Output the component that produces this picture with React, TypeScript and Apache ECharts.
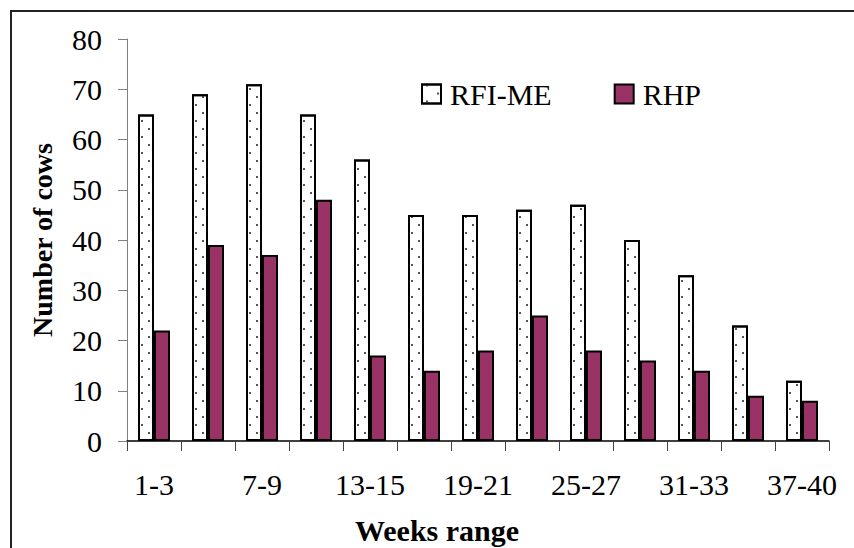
import React, { useEffect, useRef } from "react";
import * as echarts from "echarts";

const categories = ["1-3", "4-6", "7-9", "10-12", "13-15", "16-18", "19-21", "22-24", "25-27", "28-30", "31-33", "34-36", "37-40"];
const rfiMe = [65, 69, 71, 65, 56, 45, 45, 46, 47, 40, 33, 23, 12];
const rhp = [22, 39, 37, 48, 17, 14, 18, 25, 18, 16, 14, 9, 8];
const yTicks = { min: 0, max: 80, interval: 10 };

const FONT = "'Liberation Serif', 'Times New Roman', serif";

export default function App() {
  const ref = useRef<HTMLDivElement>(null);
  useEffect(() => {
    document.body.style.margin = "0";
    const chart = echarts.init(ref.current!, null, { renderer: "svg" });
    chart.setOption({
      animation: false,
      backgroundColor: "#ffffff",
      grid: { left: 127, top: 39, right: 25, bottom: 107, containLabel: false },
      legend: {
        left: 416,
        top: 74,
        icon: "rect",
        itemWidth: 19,
        itemHeight: 19,
        itemGap: 62,
        textStyle: { fontFamily: FONT, fontSize: 30, color: "#000", padding: [0, 0, 0, 4] },
        data: ["RFI-ME", "RHP"],
      },
      xAxis: {
        type: "category",
        data: categories,
        axisLine: { lineStyle: { color: "#000", width: 1.5 } },
        axisTick: { show: true, interval: 0, length: 10, lineStyle: { color: "#444" } },
        axisLabel: { interval: 1, fontFamily: FONT, fontSize: 30, color: "#000", margin: 28 },
      },
      yAxis: {
        type: "value",
        min: yTicks.min,
        max: yTicks.max,
        interval: yTicks.interval,
        splitLine: { show: false },
        axisLine: { show: true, lineStyle: { color: "#808080", width: 1 } },
        axisTick: { show: true, length: 9, lineStyle: { color: "#808080" } },
        axisLabel: { fontFamily: FONT, fontSize: 30, color: "#000", margin: 25 },
      },
      series: [
        {
          name: "RFI-ME",
          type: "bar",
          data: rfiMe,
          barWidth: 16,
          barGap: "0%",
          itemStyle: {
            color: "#ffffff",
            borderColor: "#000",
            borderWidth: 2,
            decal: {
              symbol: "rect",
              symbolSize: 1,
              color: "#555555",
              backgroundColor: "#ffffff",
              dashArrayX: [[0, 15, 2, 1], [0, 4, 2, 12]],
              dashArrayY: [2, 6],
              rotation: 0,
              symbolKeepAspect: false,
            },
          },
        },
        {
          name: "RHP",
          type: "bar",
          data: rhp,
          barWidth: 16,
          barGap: "0%",
          itemStyle: { color: "#993366", borderColor: "#000", borderWidth: 2 },
        },
      ],
      graphic: [
        {
          type: "rect",
          shape: { x: 11, y: 11, width: 900, height: 600 },
          style: { fill: "none", stroke: "#222", lineWidth: 2 },
          silent: true,
        },
        {
          type: "text",
          x: 42,
          y: 240,
          rotation: Math.PI / 2,
          style: {
            text: "Number of cows",
            fontFamily: FONT,
            fontSize: 28,
            fontWeight: "bold",
            fill: "#000",
            align: "center",
            verticalAlign: "middle",
          },
        },
        {
          type: "text",
          x: 437,
          y: 530,
          style: {
            text: "Weeks range",
            fontFamily: FONT,
            fontSize: 30,
            fontWeight: "bold",
            fill: "#000",
            align: "center",
            verticalAlign: "middle",
          },
        },
      ],
    });
    return () => chart.dispose();
  }, []);
  return <div ref={ref} style={{ width: 854, height: 548 }} />;
}
